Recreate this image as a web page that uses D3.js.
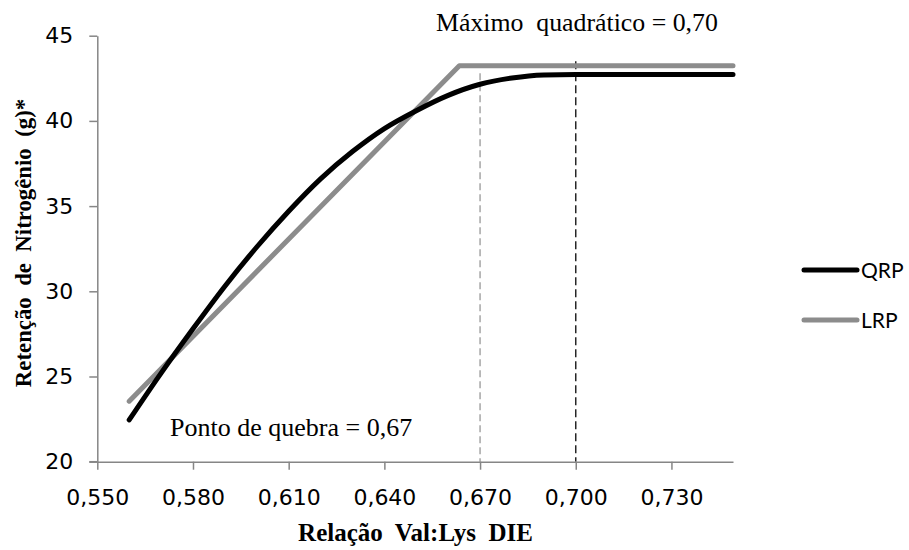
<!DOCTYPE html>
<html>
<head>
<meta charset="utf-8">
<script src="https://cdn.jsdelivr.net/npm/d3@7"></script>
<style>
  html, body { margin: 0; padding: 0; background: #fff; }
  svg { display: block; }
</style>
</head>
<body>
<svg id="chart" width="909" height="550"></svg>
<script>
// ---- data ----
const xTicks = [0.55, 0.58, 0.61, 0.64, 0.67, 0.70, 0.73];
const yTicks = [20, 25, 30, 35, 40, 45];
const xDomain = [0.55, 0.7493];
const yDomain = [20, 45];

const qrpX = [0.56, 0.57, 0.58, 0.59, 0.60, 0.61, 0.62, 0.63, 0.64, 0.65, 0.66, 0.67, 0.68, 0.69, 0.70, 0.7493];
const qrpY = [22.45, 25.2, 27.8, 30.3, 32.6, 34.7, 36.6, 38.2, 39.55, 40.6, 41.5, 42.15, 42.52, 42.7, 42.73, 42.73];

const lrpX = [0.56, 0.6635, 0.7493];
const lrpY = [23.55, 43.24, 43.24];

const breakPoint = 0.67;
const quadMax = 0.70;
const seriesNames = ["QRP", "LRP"];

// ---- layout ----
const svg = d3.select("#chart");
const x = d3.scaleLinear().domain(xDomain).range([97.3, 733]);
const y = d3.scaleLinear().domain(yDomain).range([461.7, 35.7]);
const fmt = d => d3.format(".3f")(d).replace(".", ",");

// vertical reference lines
svg.append("line")
  .attr("x1", x(breakPoint)).attr("x2", x(breakPoint))
  .attr("y1", y(42.8)).attr("y2", y(20))
  .attr("stroke", "#a6a6a6").attr("stroke-width", 1.5)
  .attr("stroke-dasharray", "7,4");
svg.append("line")
  .attr("x1", x(quadMax)).attr("x2", x(quadMax))
  .attr("y1", y(43.5)).attr("y2", y(20))
  .attr("stroke", "#262626").attr("stroke-width", 1.5)
  .attr("stroke-dasharray", "8,4");

// axes
const axisColor = "#868686";
const xAxis = svg.append("g").attr("transform", `translate(0,${y(20)})`)
  .call(d3.axisBottom(x).tickValues(xTicks).tickFormat(fmt).tickSize(8).tickSizeOuter(0));
const yAxis = svg.append("g").attr("transform", `translate(${x(0.55)},0)`)
  .call(d3.axisLeft(y).tickValues(yTicks).tickSize(8).tickSizeOuter(0));
[xAxis, yAxis].forEach(g => {
  g.select(".domain").attr("stroke", axisColor).attr("stroke-width", 1.5);
  g.selectAll(".tick line").attr("stroke", axisColor).attr("stroke-width", 1.5);
  g.selectAll(".tick text").attr("fill", "#000")
    .attr("font-family", "DejaVu Sans").attr("font-size", 22);
});
svg.append("line").attr("x1", x(0.55) - 8).attr("x2", x(0.55))
  .attr("y1", y(20)).attr("y2", y(20)).attr("stroke", axisColor).attr("stroke-width", 1.5);
xAxis.selectAll(".tick text").attr("y", 43.5).attr("dy", 0);
yAxis.selectAll(".tick text").attr("x", -24);

// series
const line = d3.line().x(d => x(d[0])).y(d => y(d[1]));
svg.append("path")
  .datum(lrpX.map((v, i) => [v, lrpY[i]]))
  .attr("d", line.curve(d3.curveLinear))
  .attr("fill", "none").attr("stroke", "#8c8c8c").attr("stroke-width", 5)
  .attr("stroke-linejoin", "round").attr("stroke-linecap", "round");
svg.append("path")
  .datum(qrpX.map((v, i) => [v, qrpY[i]]))
  .attr("d", line.curve(d3.curveMonotoneX))
  .attr("fill", "none").attr("stroke", "#000").attr("stroke-width", 5)
  .attr("stroke-linejoin", "round").attr("stroke-linecap", "round");

// annotations
svg.append("text").attr("x", 436).attr("y", 31)
  .attr("font-family", "Liberation Serif").attr("font-size", 25.8)
  .style("white-space", "pre")
  .text("Máximo  quadrático = 0,70");
svg.append("text").attr("x", 170).attr("y", 436)
  .attr("font-family", "Liberation Serif").attr("font-size", 26)
  .text("Ponto de quebra = 0,67");

// axis titles
svg.append("text").attr("x", (298 + 533) / 2).attr("y", 541)
  .attr("text-anchor", "middle")
  .attr("font-family", "Liberation Serif").attr("font-weight", "bold").attr("font-size", 25)
  .style("white-space", "pre")
  .text("Relação  Val:Lys  DIE");
svg.append("text")
  .attr("transform", "translate(31,243) rotate(-90)")
  .attr("text-anchor", "middle")
  .attr("font-family", "Liberation Serif").attr("font-weight", "bold").attr("font-size", 22.8)
  .style("white-space", "pre")
  .text("Retenção  de  Nitrogênio  (g)*");

// legend
const legend = svg.append("g");
const legColors = ["#000", "#8c8c8c"];
seriesNames.forEach((name, i) => {
  const ly = 270 + i * 50;
  legend.append("line").attr("x1", 804).attr("x2", 857).attr("y1", ly).attr("y2", ly)
    .attr("stroke", legColors[i]).attr("stroke-width", 5).attr("stroke-linecap", "round");
  legend.append("text").attr("x", 861).attr("y", ly).attr("dy", "0.36em")
    .attr("font-family", "Lato").attr("font-size", 21).text(name);
});
</script>
</body>
</html>
